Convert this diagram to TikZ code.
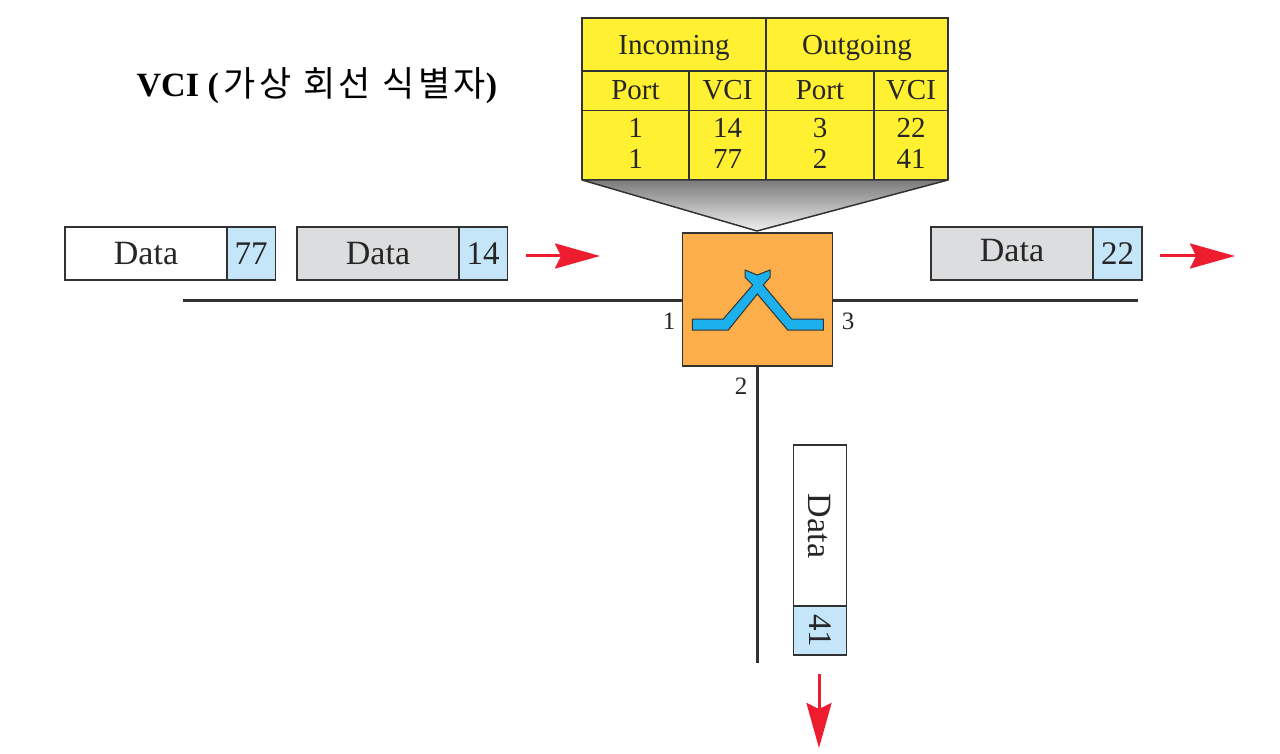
\documentclass[tikz,border=0pt]{standalone}
\usepackage{fontspec}
\setmainfont{Liberation Serif}
\newfontfamily\krfont[LetterSpace=10]{Noto Sans CJK KR}
\usetikzlibrary{arrows.meta}
\definecolor{celltint}{RGB}{255,240,50}
\definecolor{switchtint}{RGB}{251,174,74}
\definecolor{crossblue}{RGB}{28,176,236}
\definecolor{vcitint}{RGB}{197,230,248}
\definecolor{packetgrey}{RGB}{220,221,222}
\definecolor{flowred}{RGB}{237,28,46}
\definecolor{inkgrey}{RGB}{50,50,50}
\newcommand{\dropbase}[2]{\raisebox{-#1pt}[0pt][0pt]{#2}}
\tikzset{
    cell/.style={draw=inkgrey, line width=1.5pt, fill=celltint, inner sep=0pt, font=\fontsize{29}{29}\selectfont, text=black!85},
    celltext/.style={inner sep=0pt, font=\fontsize{29}{29}\selectfont, text=black!85},
    payload/.style={draw=inkgrey, line width=1.5pt, inner sep=0pt, minimum width=162pt, minimum height=53pt, font=\fontsize{34}{34}\selectfont, text=black!85},
    vcibox/.style={draw=inkgrey, line width=1.5pt, fill=vcitint, inner sep=0pt, minimum width=48.5pt, minimum height=53pt, font=\fontsize{33}{33}\selectfont, text=black!85},
    link/.style={draw=inkgrey, line width=3pt},
    flow/.style={draw=flowred, line width=3pt, -{Stealth[length=45pt, width=25pt, inset=6pt]}},
    portnum/.style={font=\fontsize{25}{25}\selectfont, text=black!85}
}
\begin{document}
\begin{tikzpicture}[x=1pt, y=-1pt]
    \useasboundingbox (0,0) rectangle (1280,754);

    \node[font=\fontsize{34}{34}\selectfont\bfseries, anchor=west, inner sep=0pt] (title) at (136.5, 85.5) {VCI (\hspace{5pt}{\krfont\mdseries\fontsize{35}{35}\selectfont 가상 회선 식별자})};

    % table
    \path[draw=inkgrey, line width=1.5pt, line join=round, top color=black!52, bottom color=black!6] (582, 180) -- (948, 180) -- (757, 231) -- cycle;
    \node[cell, minimum width=184pt, minimum height=53pt] (incoming) at (674, 44.5) {\dropbase{10}{Incoming}};
    \node[cell, minimum width=182pt, minimum height=53pt] (outgoing) at (857, 44.5) {\dropbase{10}{Outgoing}};
    \node[cell, minimum width=107pt, minimum height=40pt] (portin) at (635.5, 91) {\dropbase{9}{Port}};
    \node[cell, minimum width=77pt, minimum height=40pt] (vciin) at (727.5, 91) {\dropbase{9}{VCI}};
    \node[cell, minimum width=108pt, minimum height=40pt] (portout) at (820, 91) {\dropbase{9}{Port}};
    \node[cell, minimum width=74pt, minimum height=40pt] (vciout) at (911, 91) {\dropbase{9}{VCI}};
    \node[cell, minimum width=107pt, minimum height=69pt] (rowa) at (635.5, 145) {};
    \node[cell, minimum width=77pt, minimum height=69pt] (rowb) at (727.5, 145) {};
    \node[cell, minimum width=108pt, minimum height=69pt] (rowc) at (820, 145) {};
    \node[cell, minimum width=74pt, minimum height=69pt] (rowd) at (911, 145) {};
    \node[celltext] (porta) at (635.5, 128) {1};
    \node[celltext] (vcia) at (727.5, 128) {14};
    \node[celltext] (portb) at (820, 128) {3};
    \node[celltext] (vcib) at (911, 128) {22};
    \node[celltext] (portc) at (635.5, 159) {1};
    \node[celltext] (vcic) at (727.5, 159) {77};
    \node[celltext] (portd) at (820, 159) {2};
    \node[celltext] (vcid) at (911, 159) {41};

    % switch with its three links
    \coordinate (leftend) at (183, 300);
    \coordinate (rightend) at (1138, 300);
    \coordinate (bottomend) at (757.5, 663);
    \node[draw=inkgrey, line width=1.5pt, fill=switchtint, minimum width=150pt, minimum height=133pt, inner sep=0pt] (switch) at (757.5, 299.5) {};
    \draw[link] (leftend) -- (switch.west |- leftend);
    \draw[link] (switch.east |- rightend) -- (rightend);
    \draw[link] (switch.south) -- (bottomend);
    \draw[draw=inkgrey, line width=1pt, fill=crossblue, miter limit=2] (692.3, 319) -- (723.3, 319) -- (752.7, 285) -- (745, 277.3) -- (745, 270) -- (757.3, 275) -- (770, 270) -- (770, 277.3) -- (763.3, 285) -- (791.7, 319) -- (823.3, 319) -- (823.3, 330) -- (787.7, 330) -- (757.3, 294) -- (728.3, 330) -- (692.3, 330) -- cycle;
    \node[portnum] (portone) at (669, 321) {1};
    \node[portnum] (portthree) at (848, 321) {3};
    \node[portnum] (porttwo) at (741, 386) {2};

    % packets
    \node[payload, fill=white] (dataa) at (146, 253.5) {\dropbase{11}{Data}};
    \node[vcibox] (taga) at (251, 253.5) {77};
    \node[payload, fill=packetgrey] (datab) at (378, 253.5) {\dropbase{11}{Data}};
    \node[vcibox] (tagb) at (483, 253.5) {14};
    \node[payload, fill=packetgrey] (datac) at (1012, 253.5) {\dropbase{8}{Data}};
    \node[vcibox] (tagc) at (1117.5, 253.5) {22};
    \node[payload, fill=white, rotate=-90] (datad) at (820, 526) {\dropbase{12}{Data}};
    \node[vcibox, rotate=-90, minimum width=49pt, minimum height=53pt] (tagd) at (820, 630.5) {41};

    % direction of travel
    \coordinate (flowaa) at (526, 256);
    \coordinate (flowab) at (600, 256);
    \coordinate (flowba) at (1160, 256);
    \coordinate (flowbb) at (1235, 256);
    \coordinate (flowca) at (819, 674);
    \coordinate (flowcb) at (819, 748);
    \draw[flow] (flowaa) -- (flowab);
    \draw[flow] (flowba) -- (flowbb);
    \draw[flow] (flowca) -- (flowcb);
\end{tikzpicture}
\end{document}
